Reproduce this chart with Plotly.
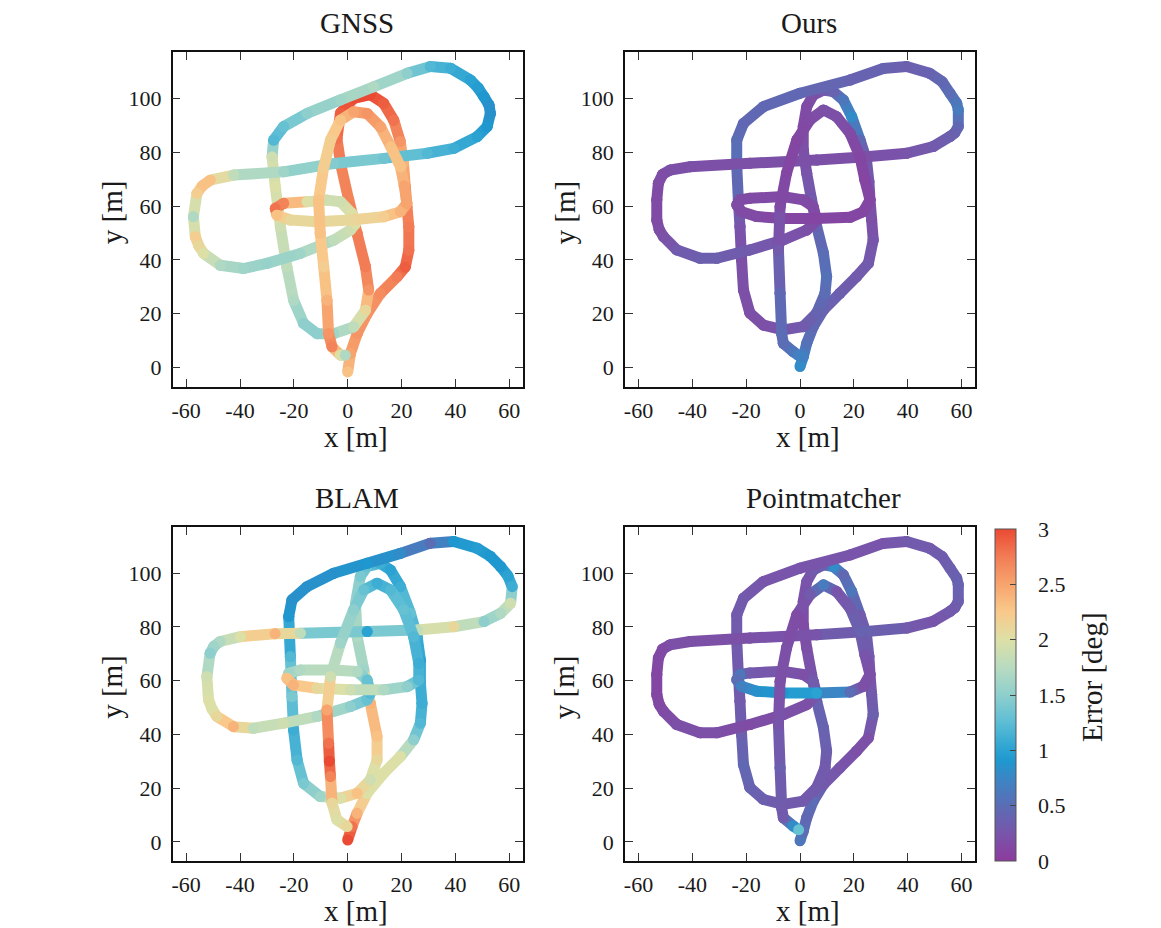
import plotly.graph_objects as go
from plotly.colors import sample_colorscale

PAGE_W, PAGE_H = 1161, 928
BODY = 8  # default page margin around the plot div
W, H = PAGE_W - BODY, PAGE_H - BODY

# ---------------- data ----------------
# shared trajectory geometry for "Ours" and "Pointmatcher" (route order)
ours_x = [0, 1.2, 2.5, 4.9, 8.7, 14.8, 21, 25.4, 27.2, 26.6, 26,
          25.6, 24.7, 22.3, 19.2, 16.1, 12.4, 8.7, 4.9, 2.5,
          1.2, 1.2, 2.5, 4.3, 6.2, 8.7, 9.9, 9.3, 6.2, 1.2,
          -6.2, -13.6, -18.6, -21, -21.7, -22.3, -22.9, -23.5, -23.5, -21, -13.6,
          0, 18.6, 30.9, 39.6, 48.2, 52.8, 55.7, 58.2, 58.8, 58.8, 57.5, 55.7, 49.5,
          39.6, 24.7, 6.2, -18.6, -40.8, -48.2,
          -51, -52.6, -53.2, -53.2, -52.3, -50.7, -45.8, -37.1, -30.9, -18.6, -6.2, 2.5, 6.2,
          4.9, 1.2, -6.2, -18.6, -22.3, -23.5, -21.7, -16.1, -6.2, 6.2, 18.6, 23.5, 26,
          24.1, 22.3, 18.6, 13.6, 8.7, 3.7, -1.2, -5, -7.4, -8, -7.4, -6.8, -6.2, -2.5, -0.5]
ours_y = [0.4, 4, 9, 15.2, 21.4, 27.6, 33.8, 38.7, 47.4, 55, 62.3,
          69, 77.1, 84.5, 93.2, 99.4, 102.5, 103.1, 101.2, 96.9,
          89.5, 80.8, 72.2, 62.3, 52.4, 42.5, 33.8, 27.6, 20.2, 15.2,
          14, 15.8, 20.2, 28.8, 40, 52.4, 62.3, 75, 84.5, 90.7, 96.9,
          101.9, 106.8, 111.1, 111.8, 109.3, 106.2, 101.9, 98.2, 95.7, 89.5, 87.2, 85.8, 82.1,
          79.6, 78.3, 77.1, 75.9, 74.6, 73.4,
          71.8, 68.5, 62.3, 54.8, 51.2, 48.6, 43.7, 40.6, 40.6, 43.7, 47.4, 51.1, 54.8,
          59.8, 62.3, 63.5, 62.9, 62.3, 60.4, 57.9, 56.1, 55.4, 55.4, 55.8, 57.9, 62.3,
          69.7, 78.3, 87, 93.2, 95.7, 92, 84.5, 72.2, 59.8, 43.7, 27.6, 12.7, 9, 5.9, 4.5]
ours_err = [0.8, 0.7, 0.55, 0.45, 0.4, 0.35, 0.3, 0.3, 0.25, 0.2, 0.2,
            0.25, 0.3, 0.45, 0.8, 0.6, 0.4, 0.3, 0.2, 0.15,
            0.15, 0.2, 0.25, 0.3, 0.4, 0.5, 0.55, 0.5, 0.4, 0.3,
            0.25, 0.2, 0.2, 0.2, 0.2, 0.25, 0.35, 0.55, 0.5, 0.45, 0.45,
            0.45, 0.4, 0.4, 0.35, 0.4, 0.45, 0.5, 0.6, 0.65, 0.45, 0.4, 0.35, 0.3,
            0.25, 0.2, 0.2, 0.2, 0.2, 0.2,
            0.18, 0.16, 0.15, 0.15, 0.18, 0.2, 0.3, 0.35, 0.35, 0.3, 0.25, 0.2, 0.15,
            0.15, 0.15, 0.15, 0.15, 0.15, 0.15, 0.15, 0.15, 0.12, 0.1, 0.12, 0.12, 0.12,
            0.1, 0.12, 0.15, 0.2, 0.2, 0.15, 0.12, 0.12, 0.15, 0.3, 0.45, 0.5, 0.5, 0.6, 0.7]
pm_err = [0.6, 0.5, 0.45, 0.5, 0.3, 0.25, 0.2, 0.2, 0.35, 0.3, 0.2,
          0.3, 0.35, 0.3, 0.6, 0.45, 0.8, 0.35, 0.3, 0.25,
          0.2, 0.15, 0.2, 0.25, 0.4, 0.4, 0.35, 0.3, 0.3, 0.3,
          0.3, 0.35, 0.4, 0.45, 0.35, 0.3, 0.3, 0.3, 0.3, 0.3, 0.25,
          0.25, 0.25, 0.25, 0.3, 0.3, 0.32, 0.35, 0.38, 0.4, 0.35, 0.32, 0.3, 0.25,
          0.3, 0.4, 0.25, 0.2, 0.2, 0.2,
          0.15, 0.13, 0.12, 0.12, 0.13, 0.15, 0.2, 0.2, 0.2, 0.15, 0.2, 0.2, 0.3,
          0.3, 0.2, 0.25, 0.3, 0.6, 0.5, 0.7, 0.85, 0.9, 1.0, 0.5, 0.2, 0.2,
          0.25, 0.4, 0.3, 0.25, 0.65, 0.3, 0.15, 0.2, 0.2, 0.25, 0.35, 0.3, 0.3, 0.8, 1.3]

gnss_x = [0, 1, 3.5, 7.2, 12.1, 18.3, 21.4, 22.7, 22.7, 22,
          21.4, 20.7, 19.5, 17.1, 13.3, 8.4, 2.2, -2.7,
          -4, -2.5, 0.4, 3.5, 6.6, 7.8, 6.6, 2.2,
          -5.2, -11.4, -16.4, -20.1, -22.6, -25, -26.9, -28.1, -27.5, -23.8, -15.1,
          -2.7, 9.7, 22.1, 30.7, 38.2, 45.6, 48.5, 50.6, 52.5, 53, 51.8, 48.1, 39.4,
          29.5, 13.4, -5.2, -23.8, -42.4, -51.1,
          -54, -56, -57.3, -56.6, -55.3, -53.5, -47.3, -38.7, -30, -17.6, -5.2, 1, 2.9,
          1.6, -2.7, -7.7, -15.1, -23.8, -26.9, -26.3, -21.3, -11.4, 1, 13.4, 19.6, 22,
          21, 19.6, 16, 12.2, 7.2, 2.2, -2.7, -6.4, -9, -10.8, -10.2, -8.9, -7.7, -7.1, -5.8, -2.7, -0.9]
gnss_y = [-1.6, 5.2, 12.6, 20, 27.5, 33.7, 37.4, 43.6, 52.3, 59.7,
          67.2, 76, 84, 91.9, 98.2, 101.4, 100, 94.5,
          85, 75, 62.2, 49.8, 37.4, 28.8, 21.3, 15.1,
          12.6, 12.6, 16.4, 25, 37.4, 52.3, 67.2, 78.3, 84.5, 89.5, 94.4,
          99.4, 104.3, 109.3, 111.8, 111.2, 106.8, 103.8, 100.6, 97.5, 94.4, 89.5, 85.8, 81.4,
          79.6, 77.7, 75.8, 72.7, 71.5, 69.6,
          67.5, 64.7, 56, 48.6, 45.2, 42.4, 38, 36.8, 38.7, 42.4, 47.3, 51.1, 53.5,
          57.2, 61.6, 62.2, 61.6, 61, 59.1, 56.6, 54.8, 54.2, 54.8, 56, 57.9, 61,
          67.5, 74.6, 82, 89.4, 94.4, 95, 91.9, 84.5, 74, 62.2, 49.8, 37.4, 25, 12.6, 7.7, 4.6, 4.6]
gnss_err = [2.3, 2.5, 2.6, 2.6, 2.65, 2.75, 2.9, 2.8, 2.75, 2.7,
            2.6, 2.4, 2.6, 2.8, 2.9, 3.0, 3.0, 2.9,
            2.8, 2.7, 2.7, 2.75, 2.75, 2.6, 2.1, 1.8,
            1.6, 1.5, 1.5, 1.7, 1.8, 1.9, 2.0, 1.9, 1.2, 1.3, 1.5,
            1.6, 1.7, 1.5, 1.2, 1.1, 1.0, 0.95, 0.9, 0.85, 0.85, 0.9, 1.0, 1.1,
            1.2, 1.35, 1.45, 1.6, 1.8, 2.3,
            2.3, 2.2, 1.7, 2.2, 2.1, 2.0, 1.7, 1.6, 1.55, 1.6, 1.8, 1.9, 2.0,
            2.0, 1.9, 1.9, 2.0, 2.7, 2.8, 2.3, 2.1, 2.1, 2.1, 2.2, 2.4, 2.5,
            2.5, 2.3, 2.3, 2.5, 2.6, 2.5, 2.3, 2.2, 2.2, 2.3, 2.3, 2.2, 2.4, 2.6, 2.7, 2.0, 1.7]

blam_x = [0, 1.6, 3.5, 7.2, 13.4, 19.6, 24.5, 27, 27.6, 27,
          27, 25.8, 23.3, 19.6, 15.9, 12.1, 7.2, 4.7,
          2.9, 3.5, 6, 8.4, 10.9, 10.9, 8.4, 3.5,
          -2.7, -10.2, -16.4, -18.8, -20.1, -20.7, -21.3, -21.9, -20.7, -15.1,
          -5.2, 7.2, 19.6, 30.7, 39.4, 48.1, 53, 56.8, 59.5, 61.1, 60.5, 56.8, 50.6,
          39.4, 25.8, 7.2, -17.6, -27, -39.9, -47.4,
          -49.7, -51.1, -52.3, -51.7, -50.4, -48.6, -42.4, -35, -23.8, -11.4, 1, 7.2, 8.4,
          7.2, 3.5, -5.2, -17.6, -21.9, -22.6, -20.1, -11.4, 1, 13.4, 22.1, 26.4,
          26.4, 24.5, 20.8, 15.9, 10.9, 6, 2.2, -2.7, -6.4, -7.7, -7.1, -6.8, -6.4, -5.8, -4, -0.2]
blam_y = [0.7, 5.7, 10.7, 18.1, 25.6, 31.8, 38, 44.2, 51.6, 59.1,
          67.7, 76.4, 85.1, 95, 101.2, 103.7, 102.5, 98.8,
          88.8, 76.4, 64, 51.6, 39.2, 30.5, 23.1, 18.1,
          16.3, 16.9, 21.8, 30.5, 41.7, 54.1, 69, 83.9, 90.1, 95,
          100, 103.7, 107.4, 111.2, 111.8, 109.3, 106.3, 102.5, 99, 95, 88.8, 85.1, 82,
          80.1, 78.9, 78.3, 77.7, 77.5, 76.4, 74.6,
          72.8, 70.2, 61.5, 52.9, 49.5, 46.7, 42.9, 42.3, 44.2, 46.7, 50.4, 52.9, 55.3,
          60.3, 63.4, 64, 64, 62.8, 60.9, 58.4, 57.2, 56.6, 56.6, 57.8, 60.3,
          66.5, 76.4, 86.4, 93.8, 96.3, 93.8, 86.4, 73.9, 61.5, 49.1, 36.7, 30, 24.3, 14.4, 8.2, 5.7]
blam_err = [3.0, 2.8, 2.4, 2.0, 2.0, 2.0, 1.5, 1.2, 1.1, 1.1,
            1.0, 1.1, 1.3, 1.1, 1.0, 1.1, 1.3, 1.4,
            1.6, 1.7, 1.6, 2.4, 2.3, 2.1, 1.9, 2.3,
            2.0, 1.6, 1.4, 1.2, 1.1, 1.4, 1.2, 0.9, 0.85, 0.85,
            0.85, 0.9, 0.8, 0.5, 0.9, 0.95, 0.9, 0.9, 1.0, 1.1, 1.9, 1.7, 1.5,
            2.1, 1.8, 1.0, 1.8, 2.4, 2.0, 1.7,
            1.6, 1.5, 1.9, 2.0, 2.0, 2.1, 2.4, 1.8, 1.9, 1.7, 1.5, 1.3, 1.2,
            1.3, 1.7, 1.8, 1.7, 1.6, 2.3, 2.4, 2.1, 1.9, 1.7, 1.5, 1.2,
            1.1, 1.2, 1.3, 1.2, 1.1, 1.3, 1.5, 1.6, 1.9, 2.5, 2.8, 3.0, 2.7, 2.1, 2.0, 2.1]

panel_titles = ["GNSS", "Ours", "BLAM", "Pointmatcher"]
x_ticks = [-60, -40, -20, 0, 20, 40, 60]
x_ticktext = ["-60", "-40", "-20", "0", "20", "40", "60"]
y_ticks = [0, 20, 40, 60, 80, 100]
y_ticktext = ["0", "20", "40", "60", "80", "100"]
cbar_ticks = [0, 0.5, 1, 1.5, 2, 2.5, 3]
cbar_ticktext = ["0", "0.5", "1", "1.5", "2", "2.5", "3"]

# ---------------- style ----------------
CMIN, CMAX = 0.0, 3.0
CSCALE = [
    [0.0, "#8d3b9d"], [0.0833, "#7855aa"], [0.1667, "#5b6db5"], [0.25, "#3b86c5"],
    [0.3, "#1f97cf"], [0.3333, "#2aa2d2"], [0.4167, "#5cbdd5"], [0.5, "#8ecfcd"],
    [0.5833, "#b8dbc0"], [0.6667, "#dde0a6"], [0.75, "#f9c98b"], [0.8333, "#f7a46e"],
    [0.9167, "#f27c55"], [1.0, "#ea4a33"],
]
SERIF = "Liberation Serif, Times New Roman, serif"
TXT = "#1a1a1a"
LINE_W = 11
BIG = 29


def px2x(px):
    return (px - BODY) / W


def py2y(py):
    return 1 - (py - BODY) / H


# panel boxes in page pixels: (left, right, top, bottom)
boxes = [(172.7, 522.7, 52.3, 386.7), (625, 975, 52.3, 386.7),
         (172.7, 522.7, 527.3, 861.0), (625, 975, 527.3, 861.0)]
title_pos = [(357, 23), (809, 23), (357, 498), (823, 498)]

panels = [(gnss_x, gnss_y, gnss_err), (ours_x, ours_y, ours_err),
          (blam_x, blam_y, blam_err), (ours_x, ours_y, pm_err)]

fig = go.Figure()
for i, (xs, ys, es) in enumerate(panels):
    ax = "" if i == 0 else str(i + 1)
    for k in range(len(xs) - 1):
        m = (es[k] + es[k + 1]) / 2
        col = sample_colorscale(CSCALE, [(m - CMIN) / (CMAX - CMIN)])[0]
        fig.add_trace(go.Scatter(
            x=[xs[k], xs[k + 1]], y=[ys[k], ys[k + 1]],
            mode="lines+markers",
            line=dict(color=col, width=LINE_W),
            marker=dict(size=LINE_W, color=[es[k], es[k + 1]], coloraxis="coloraxis",
                        line=dict(width=0)),
            xaxis="x" + ax, yaxis="y" + ax,
            showlegend=False, hoverinfo="skip",
        ))

layout = dict(
    width=W, height=H, margin=dict(l=0, r=0, t=0, b=0),
    paper_bgcolor="white", plot_bgcolor="white",
    font=dict(family=SERIF, color=TXT, size=21),
    coloraxis=dict(
        cmin=CMIN, cmax=CMAX, colorscale=CSCALE,
        colorbar=dict(
            x=px2x(995), xanchor="left", y=py2y(695), yanchor="middle",
            thickness=21, thicknessmode="pixels", len=332, lenmode="pixels",
            xpad=0, ypad=0, outlinewidth=1, outlinecolor="#555555",
            tickvals=cbar_ticks, ticktext=["\u00a0\u00a0\u00a0" + t for t in cbar_ticktext],
            ticks="inside", ticklen=6, tickcolor="#444444", tickwidth=1,
            tickfont=dict(family=SERIF, size=22, color=TXT),
        ),
    ),
    annotations=[],
)

for i, (l, r, t, b) in enumerate(boxes):
    ax = "" if i == 0 else str(i + 1)
    common = dict(showline=True, linecolor="#111111", linewidth=1.5, mirror="ticks",
                  ticks="inside", ticklen=8, tickwidth=1, tickcolor="#333333",
                  showgrid=False, zeroline=False,
                  tickfont=dict(family=SERIF, size=22, color=TXT))
    layout["xaxis" + ax] = dict(common, domain=[px2x(l), px2x(r)], range=[-65, 65],
                                tickvals=x_ticks, ticktext=x_ticktext,
                                anchor="y" + ax, ticklabelstandoff=3)
    layout["yaxis" + ax] = dict(common, domain=[py2y(b), py2y(t)], range=[-7.1, 117.1],
                                tickvals=y_ticks, ticktext=y_ticktext,
                                anchor="x" + ax, ticklabelstandoff=5)
    tx, ty = title_pos[i]
    layout["annotations"].append(dict(text=panel_titles[i], x=px2x(tx), y=py2y(ty),
                                      xref="paper", yref="paper", showarrow=False,
                                      xanchor="center", yanchor="middle",
                                      font=dict(family=SERIF, size=BIG, color=TXT)))
    layout["annotations"].append(dict(text="x [m]", x=px2x((l + r) / 2 + 8), y=py2y(b + 50),
                                      xref="paper", yref="paper", showarrow=False,
                                      xanchor="center", yanchor="middle",
                                      font=dict(family=SERIF, size=BIG, color=TXT)))
    layout["annotations"].append(dict(text="y [m]", x=px2x(l - 61), y=py2y((t + b) / 2 - 7),
                                      xref="paper", yref="paper", showarrow=False,
                                      xanchor="center", yanchor="middle", textangle=-90,
                                      font=dict(family=SERIF, size=BIG, color=TXT)))

layout["annotations"].append(dict(text="Error [deg]", x=px2x(1092), y=py2y(677),
                                  xref="paper", yref="paper", showarrow=False,
                                  xanchor="center", yanchor="middle", textangle=-90,
                                  font=dict(family=SERIF, size=BIG, color=TXT)))

fig.update_layout(**layout)
fig.write_html("out.html")
